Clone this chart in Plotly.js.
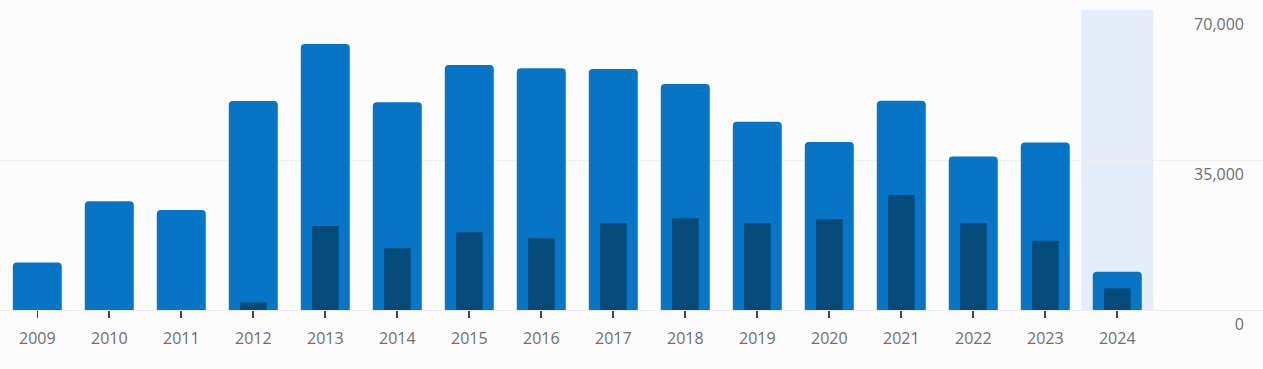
<!DOCTYPE html>
<html>
<head>
<meta charset="utf-8">
<script src="https://cdn.plot.ly/plotly-3.0.1.min.js"></script>
<style>
html,body{margin:0;padding:0;background:#fcfcfc;}
#chart{width:1263px;height:369px;}
</style>
</head>
<body>
<div id="chart"></div>
<script>
const years = ["2009","2010","2011","2012","2013","2014","2015","2016","2017","2018","2019","2020","2021","2022","2023","2024"];
const totalValues = [11100, 25350, 23350, 48750, 62050, 48500, 57150, 56400, 56250, 52750, 43950, 39200, 48800, 35800, 39100, 8950];
const innerValues = [0, 0, 0, 1800, 19600, 14400, 18150, 16750, 20250, 21400, 20300, 21150, 26850, 20300, 16150, 5050];
const yTicks = [0, 35000, 70000];
const yTickLabels = ["0", "35,000", "70,000"];
const highlightYear = "2024";

const hiIdx = years.indexOf(highlightYear);

const traces = [
  {
    type: 'bar', x: years, y: totalValues, width: 0.68,
    marker: {color: '#0775c5', cornerradius: 4},
    hoverinfo: 'skip'
  },
  {
    type: 'bar', x: years, y: innerValues, width: 0.37,
    marker: {color: '#044b7a', cornerradius: 4},
    hoverinfo: 'skip'
  }
];

const layout = {
  width: 1263, height: 369,
  margin: {l: 0, r: 0, t: 10, b: 59, pad: 0},
  paper_bgcolor: '#fcfcfc', plot_bgcolor: '#fcfcfc',
  barmode: 'overlay', showlegend: false, hovermode: false,
  font: {family: '"Open Sans", "Noto Sans", sans-serif', size: 16, color: '#6e6e72'},
  xaxis: {
    type: 'category', categoryorder: 'array', categoryarray: years,
    range: [-0.518, 17.024],
    showgrid: false, zeroline: false, showline: false,
    ticks: 'outside', ticklen: 7, tickwidth: 1.6, tickcolor: '#444',
    ticklabelstandoff: 7,
    tickfont: {size: 16, color: '#6e6e72'},
    fixedrange: true
  },
  yaxis: {
    range: [0, 70000], side: 'right',
    tickvals: yTicks, ticktext: yTickLabels,
    ticklabelposition: 'inside', ticklabeloverflow: 'allow',
    ticklabelshift: 14, ticklabelstandoff: 16,
    showgrid: true, gridcolor: '#f0f0f0', gridwidth: 1,
    zeroline: true, zerolinecolor: '#ececec', zerolinewidth: 1,
    showline: false, ticks: '',
    tickfont: {size: 16, color: '#6e6e72'},
    fixedrange: true
  },
  shapes: [{
    type: 'rect', xref: 'x', yref: 'paper',
    x0: hiIdx - 0.5, x1: hiIdx + 0.5, y0: 0, y1: 1,
    fillcolor: '#e4eef8', line: {width: 0}, layer: 'below'
  }]
};

Plotly.newPlot('chart', traces, layout, {displayModeBar: false, staticPlot: true});
</script>
</body>
</html>
